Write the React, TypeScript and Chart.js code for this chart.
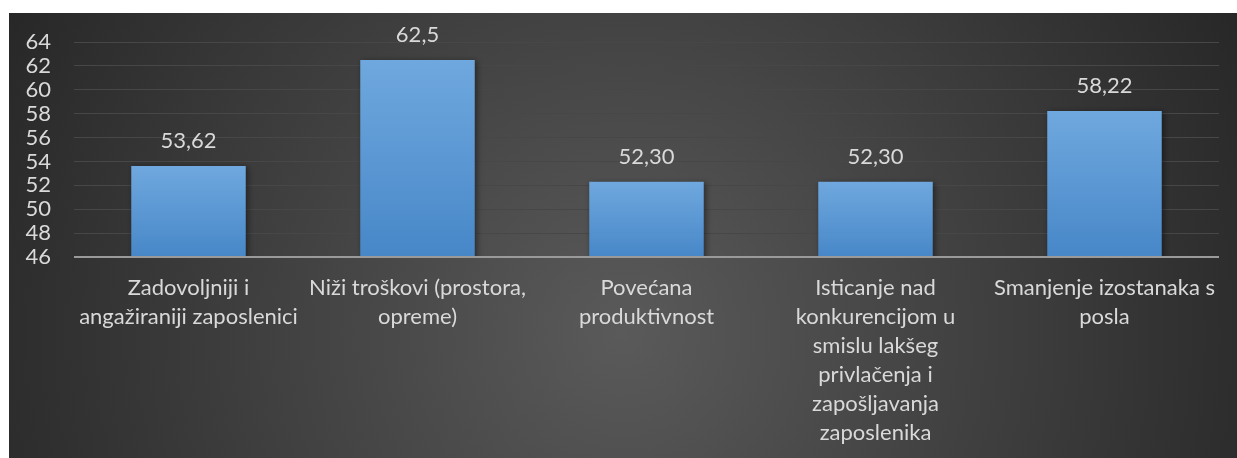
import React, { useEffect, useRef } from "react";
import { Chart, registerables } from "chart.js";

Chart.register(...registerables);

const categories: string[][] = [
  ["Zadovoljniji i", "angažiraniji zaposlenici"],
  ["Niži troškovi (prostora,", "opreme)"],
  ["Povećana", "produktivnost"],
  ["Isticanje nad", "konkurencijom u", "smislu lakšeg", "privlačenja i", "zapošljavanja", "zaposlenika"],
  ["Smanjenje izostanaka s", "posla"],
];
const values: number[] = [53.62, 62.5, 52.3, 52.3, 58.22];
const valueLabels: string[] = ["53,62", "62,5", "52,30", "52,30", "58,22"];
const yMin = 46;
const yMax = 64;
const yStep = 2;

const FONT = "Lato, 'Open Sans', sans-serif";

const bgPlugin = {
  id: "bgPlugin",
  beforeDraw(chart: any) {
    const { ctx, width, height } = chart;
    const g = ctx.createRadialGradient(width * 0.5, height * 0.72, 0, width * 0.5, height * 0.72, width * 0.58);
    g.addColorStop(0, "#5a5a5a");
    g.addColorStop(1, "#262626");
    ctx.save();
    ctx.fillStyle = g;
    ctx.fillRect(0, 0, width, height);
    ctx.restore();
  },
  beforeDatasetsDraw(chart: any) {
    const ctx = chart.ctx;
    ctx.save();
    ctx.shadowColor = "rgba(0,0,0,0.45)";
    ctx.shadowBlur = 6;
    ctx.shadowOffsetX = 2;
    ctx.shadowOffsetY = 1;
  },
  afterDatasetsDraw(chart: any) {
    const ctx = chart.ctx;
    ctx.restore();
    const area = chart.chartArea;
    const yb = chart.scales.y.getPixelForValue(yMin);
    ctx.save();
    ctx.strokeStyle = "#9a9a9a";
    ctx.lineWidth = 2;
    ctx.beginPath();
    ctx.moveTo(area.left, yb);
    ctx.lineTo(area.right, yb);
    ctx.stroke();
    const meta = chart.getDatasetMeta(0);
    ctx.fillStyle = "#d9d9d9";
    ctx.font = `22px ${FONT}`;
    ctx.textAlign = "center";
    ctx.textBaseline = "middle";
    meta.data.forEach((bar: any, i: number) => {
      ctx.fillText(valueLabels[i], bar.x, bar.y - 25);
    });
    ctx.restore();
  },
};

export default function App() {
  const ref = useRef<HTMLCanvasElement | null>(null);
  useEffect(() => {
    if (!ref.current) return;
    const chart = new Chart(ref.current, {
      type: "bar",
      data: {
        labels: categories,
        datasets: [
          {
            data: values,
            backgroundColor: (c: any) => {
              const ch = c.chart;
              if (!ch.chartArea || c.parsed == null) return "#5b9bd5";
              const y0 = ch.scales.y.getPixelForValue(c.parsed.y);
              const y1 = ch.scales.y.getPixelForValue(yMin);
              const g = ch.ctx.createLinearGradient(0, y0, 0, y1);
              g.addColorStop(0, "#6fa8de");
              g.addColorStop(1, "#4787c8");
              return g;
            },
            borderWidth: 0,
            barPercentage: 0.5,
            categoryPercentage: 1,
          },
        ],
      },
      options: {
        responsive: false,
        animation: false,
        layout: { padding: { top: 29, right: 18, left: 0, bottom: 0 } },
        plugins: { legend: { display: false }, tooltip: { enabled: false } },
        scales: {
          x: {
            grid: { display: false, drawTicks: false },
            border: { display: false },
            ticks: {
              color: "#d9d9d9",
              font: { family: FONT, size: 22, lineHeight: 1.32 },
              padding: 16,
              maxRotation: 0,
              autoSkip: false,
            },
            afterFit(scale: any) {
              scale.height = 201;
            },
          },
          y: {
            min: yMin,
            max: yMax,
            grid: { color: "#474747", lineWidth: 1, drawTicks: false },
            border: { display: false },
            ticks: {
              stepSize: yStep,
              autoSkip: false,
              color: "#d9d9d9",
              font: { family: FONT, size: 22 },
              padding: 23,
            },
            afterFit(scale: any) {
              scale.width = 65;
              scale.paddingTop = 0;
              scale.paddingBottom = 0;
            },
          },
        },
      },
      plugins: [bgPlugin],
    });
    return () => chart.destroy();
  }, []);
  return (
    <div style={{ position: "fixed", left: 9, top: 13, width: 1228, height: 445 }}>
      <canvas ref={ref} width={1228} height={445} style={{ display: "block" }} />
    </div>
  );
}
